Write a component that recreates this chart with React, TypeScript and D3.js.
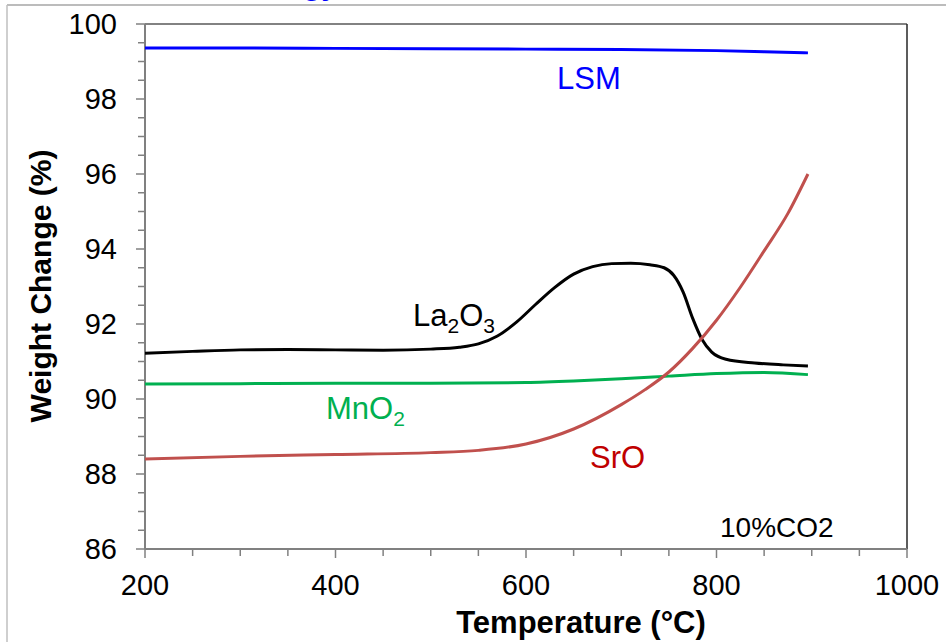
import React from 'react';
import * as d3 from 'd3';

// --- data ---
const lsmT = [200, 300, 400, 500, 600, 700, 800, 850, 896];
const lsmW = [99.36, 99.36, 99.35, 99.34, 99.33, 99.32, 99.29, 99.26, 99.23];

const la2o3T = [200, 250, 300, 350, 400, 450, 500, 530, 550, 570, 590, 610, 630, 650, 670, 690, 710, 730, 745, 755, 765, 775, 785, 795, 810, 840, 870, 896];
const la2o3W = [91.22, 91.27, 91.31, 91.32, 91.31, 91.3, 91.33, 91.38, 91.47, 91.68, 92.05, 92.52, 92.97, 93.33, 93.53, 93.61, 93.62, 93.58, 93.5, 93.3, 92.85, 92.15, 91.58, 91.25, 91.06, 90.96, 90.91, 90.88];

const mno2T = [200, 300, 400, 500, 600, 650, 700, 750, 800, 850, 896];
const mno2W = [90.4, 90.41, 90.42, 90.42, 90.44, 90.48, 90.54, 90.61, 90.68, 90.71, 90.65];

const sroT = [200, 300, 400, 500, 550, 600, 650, 700, 725, 750, 775, 800, 825, 850, 875, 896];
const sroW = [88.4, 88.47, 88.52, 88.57, 88.63, 88.8, 89.2, 89.85, 90.25, 90.72, 91.35, 92.1, 92.98, 93.95, 94.95, 96.0];

const xTicks = [200, 400, 600, 800, 1000];
const yTicks = [86, 88, 90, 92, 94, 96, 98, 100];

const W = 946, H = 642;
const margin = { left: 145, right: 907, top: 24, bottom: 549 };

const x = d3.scaleLinear().domain([200, 1000]).range([margin.left, margin.right]);
const y = d3.scaleLinear().domain([86, 100]).range([margin.bottom, margin.top]);

const line = d3.line<[number, number]>()
  .x(d => x(d[0]))
  .y(d => y(d[1]))
  .curve(d3.curveMonotoneX);

const zip = (t: number[], w: number[]) => t.map((v, i) => [v, w[i]] as [number, number]);

const series = [
  { name: 'LSM', t: lsmT, w: lsmW, color: '#0000FF' },
  { name: 'La2O3', t: la2o3T, w: la2o3W, color: '#000000' },
  { name: 'MnO2', t: mno2T, w: mno2W, color: '#00B050' },
  { name: 'SrO', t: sroT, w: sroW, color: '#C0504D' },
];

const FONT = 'Liberation Sans, Arial, sans-serif';

export default function App() {
  const xMinor = d3.range(200, 1001, 50);
  const yMinor = d3.range(86, 100.01, 0.5);
  return (
    <svg width={W} height={H} style={{ position: 'absolute', left: 0, top: 0, background: '#fff' }} fontFamily={FONT}>
      {/* outer frame of the cropped figure */}
      <line x1={7} x2={W} y1={5} y2={5} stroke="#a6a6a6" strokeWidth={1.5} />
      <line x1={7} x2={7} y1={5} y2={H} stroke="#bfbfbf" strokeWidth={1.5} />
      {/* title of the source page, cut off at the top like in the original */}
      <text x={303} y={-5} fontSize={30} fontWeight="bold" fill="#0000FF">gy</text>

      {/* plot borders */}
      <line x1={margin.left} x2={margin.right} y1={margin.top} y2={margin.top} stroke="#595959" strokeWidth={1.5} />
      <line x1={margin.right} x2={margin.right} y1={margin.top} y2={margin.bottom} stroke="#262626" strokeWidth={1.5} />

      {/* y axis */}
      <line x1={margin.left} x2={margin.left} y1={margin.top} y2={margin.bottom} stroke="#808080" strokeWidth={2} />
      {yMinor.map(v => (
        <line key={'ym' + v} x1={margin.left - (v % 2 === 0 ? 9 : 7)} x2={margin.left} y1={y(v)} y2={y(v)} stroke="#808080" strokeWidth={1.5} />
      ))}
      {yTicks.map(v => (
        <text key={'yt' + v} x={117} y={y(v)} dy="0.36em" textAnchor="end" fontSize={29} fill="#000">{v}</text>
      ))}

      {/* x axis */}
      <line x1={margin.left} x2={margin.right} y1={margin.bottom} y2={margin.bottom} stroke="#808080" strokeWidth={2} />
      {xMinor.map(v => (
        <line key={'xm' + v} x1={x(v)} x2={x(v)} y1={margin.bottom} y2={margin.bottom + (v % 200 === 0 ? 9 : 7)} stroke="#808080" strokeWidth={1.5} />
      ))}
      {xTicks.map(v => (
        <text key={'xt' + v} x={x(v)} y={595} textAnchor="middle" fontSize={29} fill="#000">{v}</text>
      ))}

      {/* axis titles */}
      <text x={581} y={633} textAnchor="middle" fontSize={31} fontWeight="bold" fill="#000">Temperature (°C)</text>
      <text transform={`translate(51,${286}) rotate(-90)`} textAnchor="middle" fontSize={30} fontWeight="bold" fill="#000">Weight Change (%)</text>

      {/* curves */}
      {series.map(s => (
        <path key={s.name} d={line(zip(s.t, s.w)) || ''} fill="none" stroke={s.color} strokeWidth={3} />
      ))}

      {/* series labels */}
      <text x={557} y={89} fontSize={31} fill="#0000FF">LSM</text>
      <text x={413} y={326} fontSize={31} fill="#000">
        La<tspan fontSize={21} dy={7}>2</tspan><tspan dy={-7}>O</tspan><tspan fontSize={21} dy={7}>3</tspan>
      </text>
      <text x={326} y={419} fontSize={31} fill="#00B050">
        MnO<tspan fontSize={21} dy={7}>2</tspan>
      </text>
      <text x={590} y={468} fontSize={31} fill="#C00000">SrO</text>
      <text x={720} y={537} fontSize={28} fill="#000">10%CO2</text>
    </svg>
  );
}
